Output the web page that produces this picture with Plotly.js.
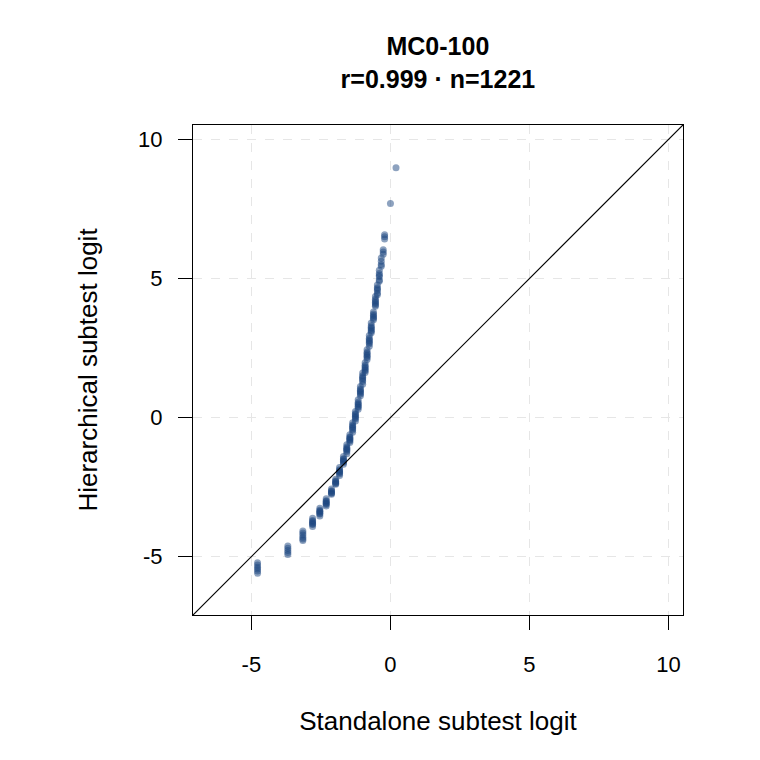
<!DOCTYPE html>
<html>
<head>
<meta charset="utf-8">
<script src="https://cdn.plot.ly/plotly-3.0.1.min.js"></script>
<style>
  html, body { margin: 0; padding: 0; background: #fff; }
  #chart { width: 760px; height: 760px; }
</style>
</head>
<body>
<div id="chart"></div>
<script>
// Standalone subtest logit (discrete score levels)
const standaloneLogit = [
  -4.78, -3.69, -3.15, -2.80, -2.54, -2.31, -2.12, -1.97, -1.83, -1.69,
  -1.57, -1.46, -1.36, -1.26, -1.16, -1.08, -1.00, -0.91, -0.84, -0.76,
  -0.69, -0.61, -0.54, -0.47, -0.40, -0.33, -0.26, -0.21, 0.00, 0.20
];

// Hierarchical subtest logit estimates observed at each standalone level
const hierarchicalLogit = [
  [-5.22, -5.30, -5.38, -5.45, -5.52, -5.60],
  [-4.62, -4.70, -4.78, -4.85, -4.92],
  [-4.08, -4.15, -4.22, -4.30, -4.37, -4.42],
  [-3.62, -3.70, -3.78, -3.85, -3.92, -3.74, -3.82],
  [-3.26, -3.33, -3.40, -3.47, -3.54, -3.37, -3.44],
  [-2.92, -2.99, -3.06, -3.13, -3.18, -3.02, -3.09],
  [-2.57, -2.63, -2.70, -2.76, -2.66, -2.72],
  [-2.22, -2.28, -2.34, -2.40, -2.31, -2.37],
  [-1.80, -1.88, -1.95, -2.02, -2.08, -1.91, -1.98],
  [-1.40, -1.48, -1.55, -1.62, -1.68, -1.51, -1.58],
  [-0.98, -1.06, -1.14, -1.22, -1.30, -1.10, -1.18],
  [-0.62, -0.70, -0.77, -0.84, -0.90, -0.73, -0.80],
  [-0.19, -0.27, -0.36, -0.45, -0.53, -0.31, -0.40],
  [0.22, 0.14, 0.05, -0.04, -0.12, 0.10, 0.00],
  [0.64, 0.55, 0.46, 0.37, 0.30, 0.50, 0.41],
  [1.12, 1.03, 0.94, 0.85, 0.78, 0.98, 0.89],
  [1.60, 1.50, 1.40, 1.30, 1.20, 1.45, 1.35],
  [1.97, 1.88, 1.78, 1.68, 1.62, 1.83, 1.73],
  [2.44, 2.35, 2.25, 2.16, 2.09, 2.30, 2.20],
  [2.95, 2.85, 2.75, 2.65, 2.56, 2.80, 2.70],
  [3.40, 3.30, 3.20, 3.10, 3.05, 3.25, 3.15],
  [3.80, 3.72, 3.62, 3.52, 3.67, 3.57],
  [4.35, 4.25, 4.15, 4.05, 4.00, 4.20, 4.10],
  [4.77, 4.67, 4.57, 4.47, 4.42, 4.62],
  [5.30, 5.18, 5.06, 4.95, 4.90, 5.12],
  [5.74, 5.62, 5.50, 5.44],
  [6.03, 5.95, 5.87],
  [6.57, 6.50, 6.42],
  [7.70],
  [8.98]
];

const tickVals = [-5, 0, 5, 10];
const tickText = ['-5', '0', '5', '10'];
const axisRange = [-7.1, 10.52];

const xs = [], ys = [];
standaloneLogit.forEach((sx, i) => {
  hierarchicalLogit[i].forEach(hy => { xs.push(sx); ys.push(hy); });
});

const font = 'Liberation Sans, Arial, Helvetica, sans-serif';

const axisCommon = {
  range: axisRange,
  tickvals: tickVals,
  ticktext: tickText,
  ticks: 'outside',
  ticklen: 14,
  tickwidth: 1,
  tickcolor: '#000',
  showline: true,
  linecolor: '#000',
  linewidth: 1,
  mirror: true,
  showgrid: true,
  gridcolor: '#e6e6e6',
  gridwidth: 1,
  griddash: 'dash',
  zeroline: false,
  tickfont: { family: font, size: 22, color: '#000' }
};

const traces = [
  {
    type: 'scatter',
    mode: 'markers',
    x: xs,
    y: ys,
    marker: { size: 7, color: 'rgba(28,70,128,0.5)', line: { width: 0 } },
    hoverinfo: 'x+y',
    showlegend: false
  },
  {
    type: 'scatter',
    mode: 'lines',
    x: axisRange,
    y: axisRange,
    line: { color: '#000', width: 1.2 },
    hoverinfo: 'skip',
    showlegend: false
  }
];

const layout = {
  width: 760,
  height: 760,
  margin: { l: 193, r: 77, t: 125, b: 145 },
  paper_bgcolor: '#fff',
  plot_bgcolor: '#fff',
  font: { family: font, color: '#000' },
  title: {
    text: '<b>MC0-100</b><br><b>r=0.999 · n=1221</b>',
    x: 0.5762,
    xanchor: 'center',
    xref: 'container',
    yref: 'container',
    y: 0.927,
    yanchor: 'top',
    font: { family: font, size: 25, color: '#000' }
  },
  xaxis: Object.assign({}, axisCommon, {
    title: { text: 'Standalone subtest logit', font: { family: font, size: 26 }, standoff: 35 },
    ticklabelstandoff: 16
  }),
  yaxis: Object.assign({}, axisCommon, {
    title: { text: 'Hierarchical subtest logit', font: { family: font, size: 26 }, standoff: 33 },
    ticklabelstandoff: 11
  })
};

Plotly.newPlot('chart', traces, layout, { displayModeBar: false, staticPlot: true });
</script>
</body>
</html>
